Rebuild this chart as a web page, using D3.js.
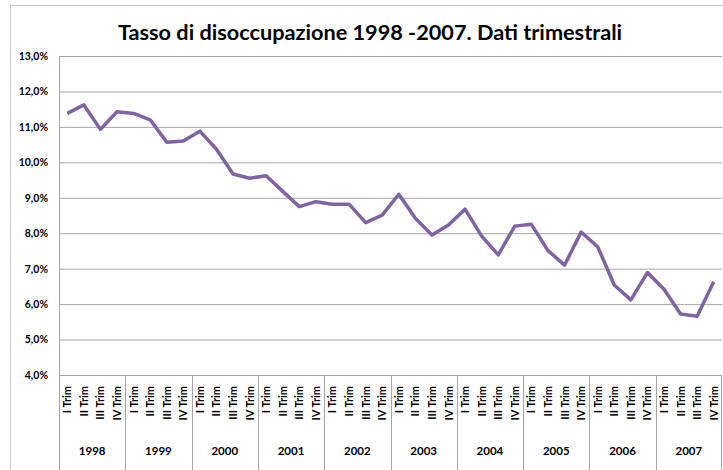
<!DOCTYPE html>
<html>
<head>
<meta charset="utf-8">
<script src="https://cdn.jsdelivr.net/npm/d3@7"></script>
<style>
  body { margin: 0; background: #fff; }
  svg { display: block; font-family: Lato, "Open Sans", sans-serif; }
</style>
</head>
<body>
<script>
// Data
const years = ["1998", "1999", "2000", "2001", "2002", "2003", "2004", "2005", "2006", "2007"];
const quarters = ["I Trim", "II Trim", "III Trim", "IV Trim"];
const rates = [
  11.38, 11.62, 10.93, 11.43,
  11.38, 11.20, 10.57, 10.60,
  10.88, 10.37, 9.67, 9.55,
  9.62, 9.18, 8.75, 8.89,
  8.82, 8.82, 8.30, 8.51,
  9.10, 8.42, 7.95, 8.23,
  8.68, 7.92, 7.39, 8.20,
  8.25, 7.51, 7.10, 8.03,
  7.62, 6.54, 6.12, 6.89,
  6.42, 5.72, 5.66, 6.63,
];
const yTicks = [4, 5, 6, 7, 8, 9, 10, 11, 12, 13];

const width = 723;
const height = 470;
const margin = { top: 56, right: 1, bottom: 95, left: 59 };

const points = years.flatMap((y, yi) =>
  quarters.map((q, qi) => ({ year: y, quarter: q, key: `${y}-${q}`, value: rates[yi * 4 + qi] }))
);

const x = d3
  .scaleBand()
  .domain(points.map((d) => d.key))
  .range([margin.left, width - margin.right]);

const xYear = d3
  .scaleBand()
  .domain(years)
  .range([margin.left, width - margin.right]);

const y = d3
  .scaleLinear()
  .domain([4, 13])
  .range([height - margin.bottom, margin.top]);

const itLocale = d3.formatLocale({ decimal: ",", thousands: ".", grouping: [3], currency: ["€", ""] });
const fmt = itLocale.format(".1%");

const svg = d3
  .select("body")
  .append("svg")
  .attr("width", width)
  .attr("height", height)
  .attr("viewBox", `0 0 ${width} ${height}`);

// Outer chart border
svg.append("rect")
  .attr("x", 10.5)
  .attr("y", 5.5)
  .attr("width", width + 10)
  .attr("height", height + 10)
  .attr("fill", "none")
  .attr("stroke", "#c8c8c8")
  .attr("stroke-width", 1);

// Title
svg.append("text")
  .attr("x", 370)
  .attr("y", 40)
  .attr("text-anchor", "middle")
  .attr("font-size", "21.7px")
  .attr("font-weight", "bold")
  .attr("fill", "#000")
  .text("Tasso di disoccupazione 1998 -2007. Dati trimestrali");

// Y axis with gridlines
const yAxis = svg.append("g")
  .attr("transform", `translate(${margin.left},0)`)
  .call(
    d3.axisLeft(y)
      .tickValues(yTicks)
      .tickSize(-(width - margin.left - margin.right))
      .tickPadding(11)
      .tickFormat((d) => fmt(d / 100))
  );
yAxis.select(".domain").remove();
yAxis.selectAll(".tick line").attr("stroke", "#a6a6a6").attr("stroke-width", 1);
yAxis.selectAll(".tick text")
  .attr("font-size", "10.5px")
  .attr("font-weight", "bold")
  .attr("fill", "#000")
  .attr("font-family", "Lato, sans-serif");

// Left axis line extends down through the category rows
svg.append("line")
  .attr("x1", margin.left + 0.5)
  .attr("x2", margin.left + 0.5)
  .attr("y1", margin.top)
  .attr("y2", height)
  .attr("stroke", "#a6a6a6");

// Year separators
years.forEach((yr, i) => {
  if (i === 0) return;
  const sx = Math.round(xYear(yr)) + 0.5;
  svg.append("line")
    .attr("x1", sx)
    .attr("x2", sx)
    .attr("y1", y(4))
    .attr("y2", height)
    .attr("stroke", "#a6a6a6");
});
svg.append("line")
  .attr("x1", width - 1.5)
  .attr("x2", width - 1.5)
  .attr("y1", y(4))
  .attr("y2", height)
  .attr("stroke", "#a6a6a6");

// Quarter labels (rotated)
svg.append("g")
  .selectAll("text")
  .data(points)
  .join("text")
  .attr("transform", (d) => `translate(${x(d.key) + x.bandwidth() / 2 + 4},${y(4) + 11}) rotate(-90)`)
  .attr("text-anchor", "end")
  .attr("font-size", "11px")
  .attr("font-weight", "bold")
  .attr("fill", "#000")
  .text((d) => d.quarter);

// Year labels
svg.append("g")
  .selectAll("text")
  .data(years)
  .join("text")
  .attr("x", (d) => xYear(d) + xYear.bandwidth() / 2)
  .attr("y", 455)
  .attr("text-anchor", "middle")
  .attr("font-size", "11.5px")
  .attr("font-weight", "bold")
  .attr("fill", "#000")
  .text((d) => d);

// Series line
const line = d3
  .line()
  .x((d) => x(d.key) + x.bandwidth() / 2)
  .y((d) => y(d.value));

svg.append("path")
  .datum(points)
  .attr("d", line)
  .attr("fill", "none")
  .attr("stroke", "#7f63a2")
  .attr("stroke-width", 3.5)
  .attr("stroke-linejoin", "round");
</script>
</body>
</html>
